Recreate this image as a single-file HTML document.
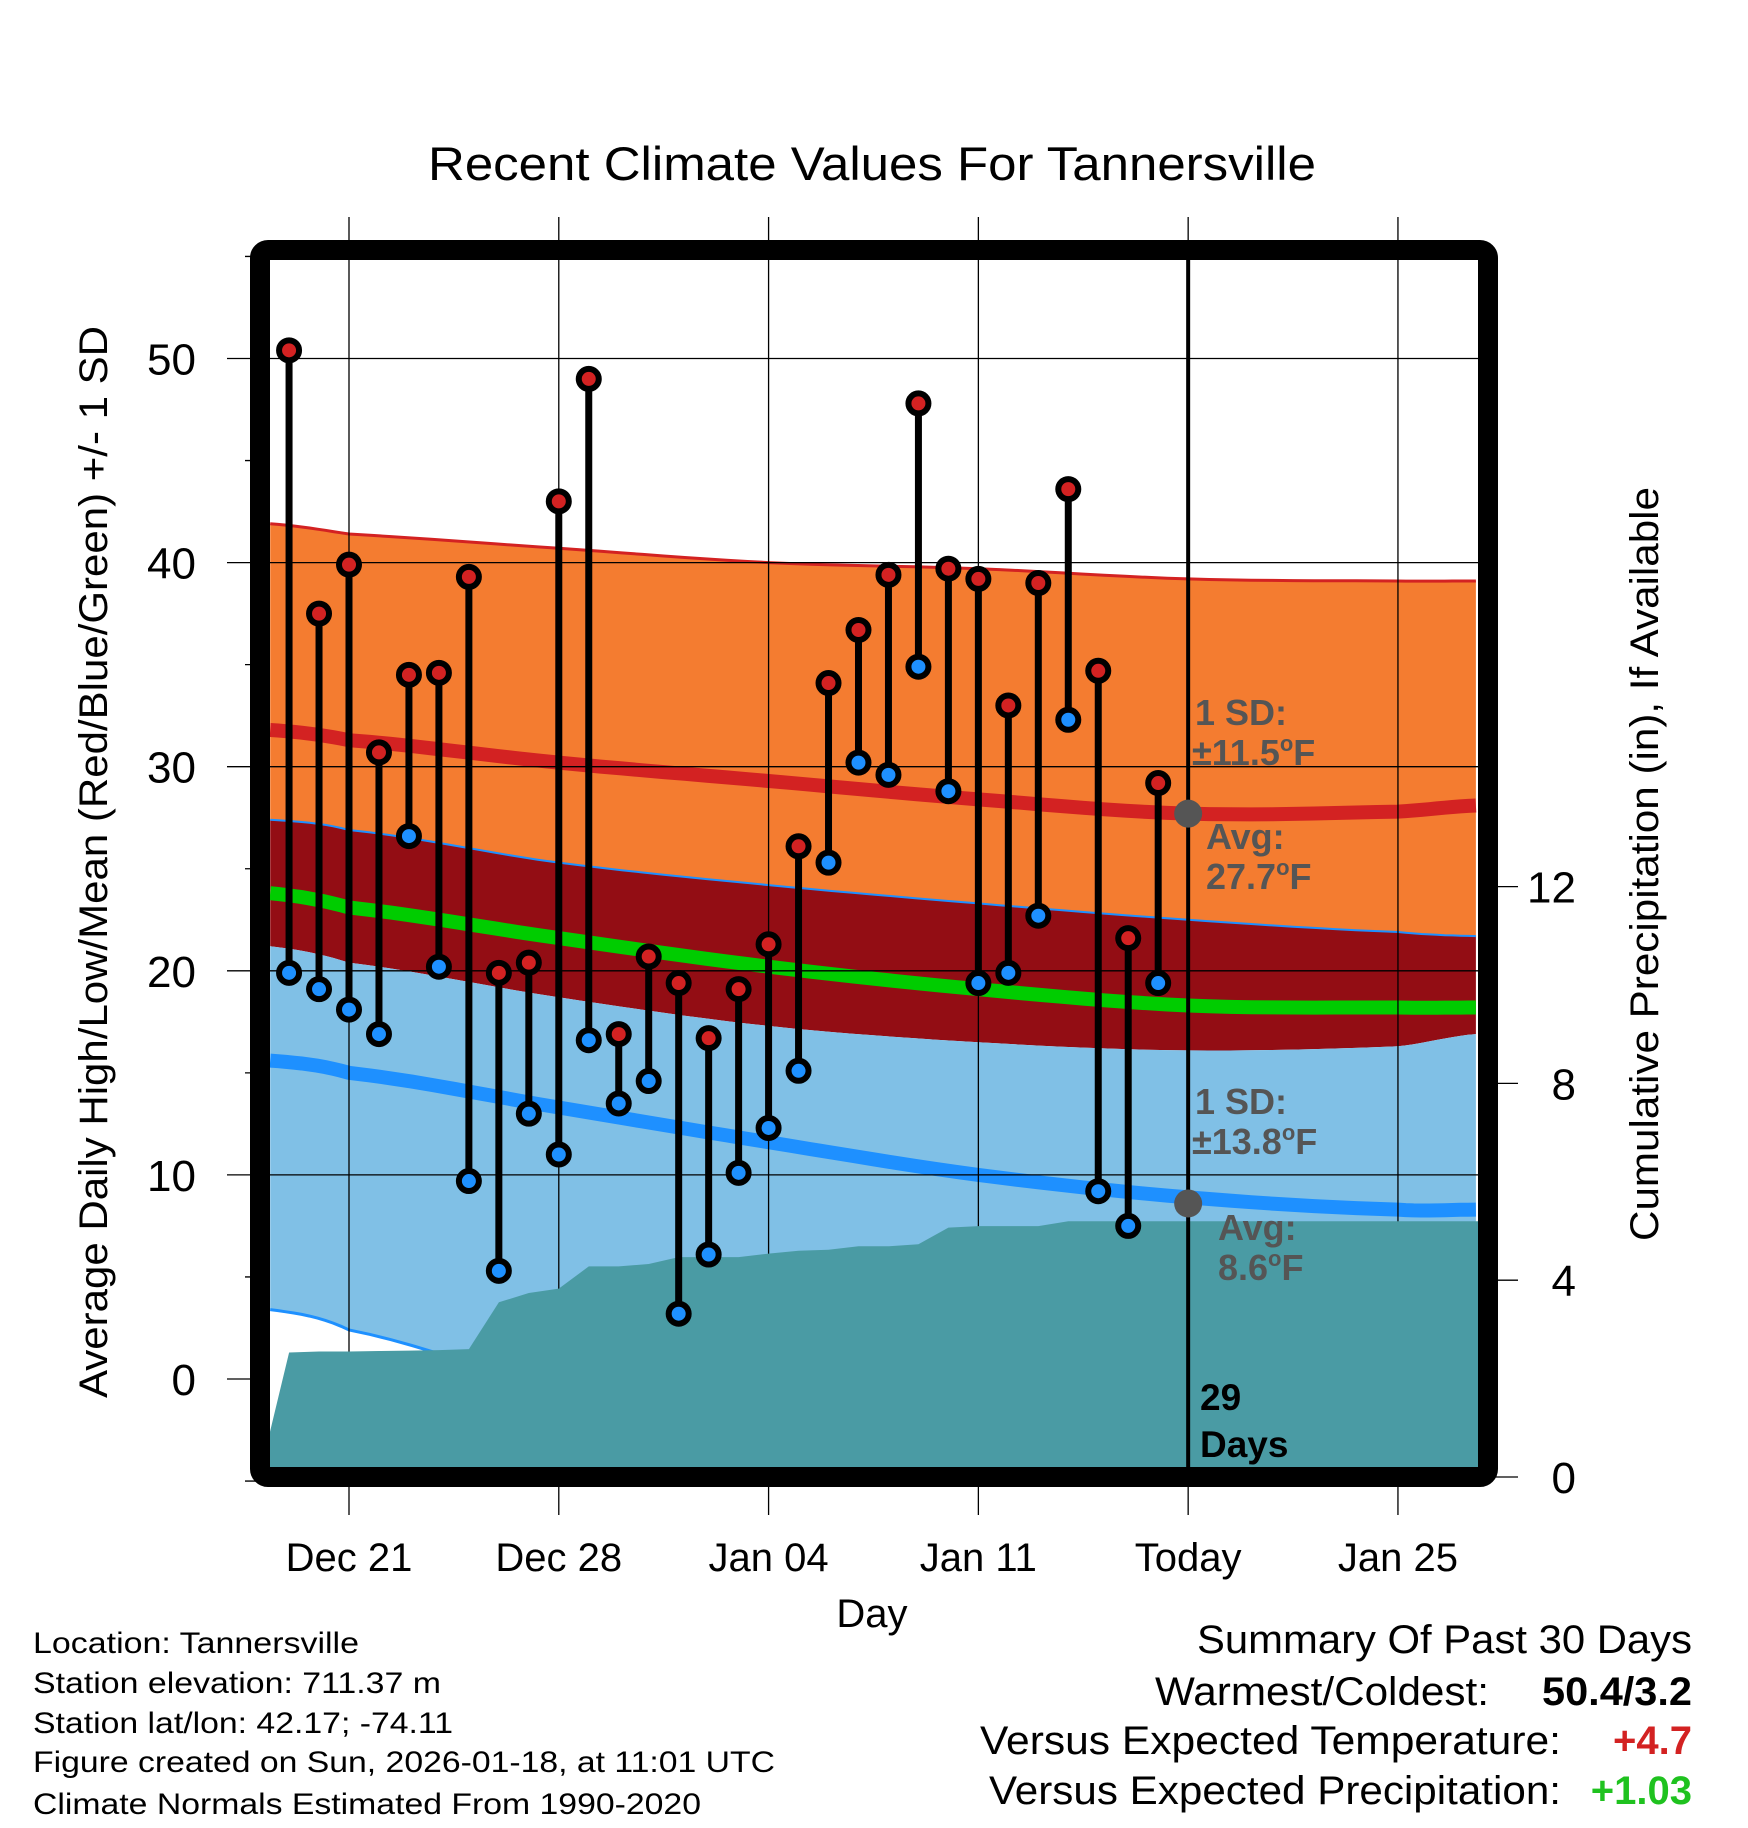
<!DOCTYPE html>
<html><head><meta charset="utf-8"><style>
html,body{margin:0;padding:0;background:#fff}
svg{display:block;font-family:"Liberation Sans",sans-serif}
</style></head><body>
<svg id="chart" width="1748" height="1828" viewBox="0 0 1748 1828" xmlns="http://www.w3.org/2000/svg">
<defs><clipPath id="plotclip"><rect x="270" y="260" width="1208" height="1207"/></clipPath></defs>
<g id="bands" clip-path="url(#plotclip)"></g>
<g id="grid"></g>
<g id="precip" clip-path="url(#plotclip)"></g>
<g id="marks"></g>
<g id="labels"></g>
</svg>
<script>
// ---- data ----
const normalDays = [-2.63, 0, 7, 14, 21, 28, 35, 37.6];
const highUpper = [41.9, 41.4, 40.7, 40.0, 39.7, 39.2, 39.1, 39.1];
const highMean  = [31.8, 31.3, 30.2, 29.3, 28.4, 27.7, 27.8, 28.1];
const lowUpper  = [27.4, 26.9, 25.3, 24.2, 23.3, 22.5, 21.9, 21.7];
const meanLine  = [23.8, 23.1, 21.6, 20.2, 19.1, 18.3, 18.2, 18.2];
const highLower = [21.2, 20.4, 18.7, 17.3, 16.5, 16.1, 16.3, 16.9];
const lowMean   = [15.6, 15.0, 13.3, 11.6, 10.0, 8.9, 8.3, 8.3];
const lowLower  = [3.4, 2.4, -0.5, -2.5, -4.0, -5.0, -5.5, -5.5];
const obsDates = ["Dec 19","Dec 20","Dec 21","Dec 22","Dec 23","Dec 24","Dec 25","Dec 26","Dec 27","Dec 28","Dec 29","Dec 30","Dec 31","Jan 01","Jan 02","Jan 03","Jan 04","Jan 05","Jan 06","Jan 07","Jan 08","Jan 09","Jan 10","Jan 11","Jan 12","Jan 13","Jan 14","Jan 15","Jan 16","Jan 17"];
const highs = [50.4,37.5,39.9,30.7,34.5,34.6,39.3,19.9,20.4,43.0,49.0,16.9,20.7,19.4,16.7,19.1,21.3,26.1,34.1,36.7,39.4,47.8,39.7,39.2,33.0,39.0,43.6,34.7,21.6,29.2];
const lows  = [19.9,19.1,18.1,16.9,26.6,20.2,9.7,5.3,13.0,11.0,16.6,13.5,14.6,3.2,6.1,10.1,12.3,15.1,25.3,30.2,29.6,34.9,28.8,19.4,19.9,22.7,32.3,9.2,7.5,19.4];
const precip = [2.53,2.55,2.55,2.56,2.57,2.58,2.6,3.55,3.74,3.83,4.28,4.28,4.33,4.47,4.47,4.47,4.54,4.6,4.62,4.69,4.69,4.73,5.07,5.1,5.1,5.1,5.2,5.2,5.2,5.2];
const xTickLabels = ["Dec 21","Dec 28","Jan 04","Jan 11","Today","Jan 25"];
const xTickDays = [0,7,14,21,28,35];
const yTicks = [0,10,20,30,40,50];
const pTicks = [0,4,8,12];

// ---- axes ----
const X = d => 349 + d * 29.97;
const Y = v => 1379 - v * 20.41;
const P = p => 1477 - p * 49.2;
const firstDay = -2;
const NS = "http://www.w3.org/2000/svg";
function mk(tag, parent, attrs){const e=document.createElementNS(NS,tag);for(const k in attrs)e.setAttribute(k,attrs[k]);parent.appendChild(e);return e;}
const bands=document.getElementById('bands'),grid=document.getElementById('grid'),pg=document.getElementById('precip'),marks=document.getElementById('marks'),labels=document.getElementById('labels');

function curvePts(arr){
  const pts=[];
  for(let i=0;i<normalDays.length-1;i++){
    const p0=arr[Math.max(i-1,0)],p1=arr[i],p2=arr[i+1],p3=arr[Math.min(i+2,arr.length-1)];
    const d1=normalDays[i],d2=normalDays[i+1];
    for(let s=0;s<10;s++){const t=s/10;
      const v=0.5*((2*p1)+(-p0+p2)*t+(2*p0-5*p1+4*p2-p3)*t*t+(-p0+3*p1-3*p2+p3)*t*t*t);
      pts.push([X(d1+(d2-d1)*t),Y(v)]);}
  }
  pts.push([X(normalDays[normalDays.length-1]),Y(arr[arr.length-1])]);
  return pts;
}
function bandPath(top,bot){
  const a=curvePts(top),b=curvePts(bot).reverse();
  return 'M'+a.concat(b).map(p=>p[0].toFixed(1)+','+p[1].toFixed(1)).join('L')+'Z';
}
function linePath(arr){return 'M'+curvePts(arr).map(p=>p[0].toFixed(1)+','+p[1].toFixed(1)).join('L');}

let e;
e=mk('path',bands,{d:bandPath(highUpper,lowUpper),fill:'#f47c30'});


e=mk('path',bands,{d:bandPath(lowUpper,highLower),fill:'#930d14'});


e=mk('path',bands,{d:bandPath(highLower,lowLower),fill:'#80c0e6'});


e=mk('path',bands,{d:linePath(highUpper),fill:'none',stroke:'#d32222',"stroke-width":3});


e=mk('path',bands,{d:linePath(lowUpper),fill:'none',stroke:'#1e90ff',"stroke-width":2});


e=mk('path',bands,{d:linePath(lowLower),fill:'none',stroke:'#1e90ff',"stroke-width":3});


e=mk('path',bands,{d:linePath(highMean),fill:'none',stroke:'#d32222',"stroke-width":14});


e=mk('path',bands,{d:linePath(meanLine),fill:'none',stroke:'#00cc00',"stroke-width":14});


e=mk('path',bands,{d:linePath(lowMean),fill:'none',stroke:'#1e90ff',"stroke-width":14});



xTickDays.forEach((d,i)=>{
  e=mk('line',grid,{x1:X(d),x2:X(d),y1:217,y2:1515,stroke:'#000','stroke-width':1.3});
  
  
  e=mk('text',labels,{x:X(d),y:1571,'font-size':40,'text-anchor':'middle'});
  e.textContent=xTickLabels[i];
  
  
});
for(let v=-5;v<=55;v+=5){
  const major=v%10===0;
  e=mk('line',grid,{x1:major?227:245,x2:270,y1:Y(v),y2:Y(v),stroke:'#000','stroke-width':1.3});
  
  
}
yTicks.forEach(v=>{
  if(v>0){e=mk('line',grid,{x1:270,x2:1478,y1:Y(v),y2:Y(v),stroke:'#000','stroke-width':1.3});
  
  }
  e=mk('text',labels,{x:196,y:Y(v)+16,'font-size':44,'text-anchor':'end'});
  e.textContent=String(v);
  
  
});
pTicks.forEach(p=>{
  e=mk('line',grid,{x1:1478,x2:1518,y1:P(p),y2:P(p),stroke:'#000','stroke-width':1.3});
  
  
  e=mk('text',labels,{x:1576,y:P(p)+16,'font-size':44,'text-anchor':'end'});
  e.textContent=String(p);
  
  
});

let pd='M'+X(-3)+','+P(0);
precip.forEach((p,i)=>{pd+='L'+X(firstDay+i).toFixed(1)+','+P(p).toFixed(1);});
pd+='L1480,'+P(precip[precip.length-1]).toFixed(1)+'L1480,1480L'+X(-3)+',1480Z';
e=mk('path',pg,{d:pd,fill:'#4a9ba4'});



e=mk('line',marks,{x1:X(28),x2:X(28),y1:260,y2:1467,stroke:'#000','stroke-width':4});



highs.forEach((h,i)=>{
  const x=X(firstDay+i);
  e=mk('line',marks,{x1:x,x2:x,y1:Y(h),y2:Y(lows[i]),stroke:'#000','stroke-width':7});
  
  
});
highs.forEach((h,i)=>{
  const x=X(firstDay+i);
  e=mk('circle',marks,{cx:x,cy:Y(h),r:10,fill:'#d32222',stroke:'#000','stroke-width':6});
  
  
  e=mk('circle',marks,{cx:x,cy:Y(lows[i]),r:10,fill:'#1e90ff',stroke:'#000','stroke-width':6});
  
  
});
e=mk('circle',marks,{cx:X(28),cy:Y(27.7),r:14,fill:'#555'});


e=mk('circle',marks,{cx:X(28),cy:Y(8.6),r:14,fill:'#555'});



e=mk('rect',marks,{x:260,y:250,width:1228,height:1227,rx:8,fill:'none',stroke:'#000','stroke-width':20});


</script>
<svg style="position:absolute;left:0;top:0" width="1748" height="1828">
<g font-family="Liberation Sans, sans-serif">
<text x="872" y="180" font-size="47" text-anchor="middle" textLength="888" lengthAdjust="spacingAndGlyphs">Recent Climate Values For Tannersville</text>
<text x="872" y="1627" font-size="40" text-anchor="middle">Day</text>
<text transform="translate(107,862) rotate(-90)" font-size="40" text-anchor="middle" textLength="1072" lengthAdjust="spacingAndGlyphs">Average Daily High/Low/Mean (Red/Blue/Green) +/- 1 SD</text>
<text transform="translate(1658,864) rotate(-90)" font-size="40" text-anchor="middle" textLength="754" lengthAdjust="spacingAndGlyphs">Cumulative Precipitation (in), If Available</text>
<g font-weight="bold" font-size="36" fill="#555">
<text x="1195" y="725">1 SD:</text>
<text x="1192" y="765">±11.5<tspan font-size="22" dy="-14">o</tspan><tspan dy="14">F</tspan></text>
<text x="1206" y="849">Avg:</text>
<text x="1206" y="889">27.7<tspan font-size="22" dy="-14">o</tspan><tspan dy="14">F</tspan></text>
<text x="1195" y="1114">1 SD:</text>
<text x="1192" y="1154">±13.8<tspan font-size="22" dy="-14">o</tspan><tspan dy="14">F</tspan></text>
<text x="1218" y="1240">Avg:</text>
<text x="1218" y="1280">8.6<tspan font-size="22" dy="-14">o</tspan><tspan dy="14">F</tspan></text>
</g>
<g font-weight="bold" font-size="37" fill="#000">
<text x="1200" y="1410">29</text>
<text x="1200" y="1457">Days</text>
</g>
<g font-size="30">
<text x="33" y="1653" textLength="326" lengthAdjust="spacingAndGlyphs">Location: Tannersville</text>
<text x="33" y="1693" textLength="408" lengthAdjust="spacingAndGlyphs">Station elevation: 711.37 m</text>
<text x="33" y="1733" textLength="420" lengthAdjust="spacingAndGlyphs">Station lat/lon: 42.17; -74.11</text>
<text x="33" y="1772" textLength="742" lengthAdjust="spacingAndGlyphs">Figure created on Sun, 2026-01-18, at 11:01 UTC</text>
<text x="33" y="1814" textLength="668" lengthAdjust="spacingAndGlyphs">Climate Normals Estimated From 1990-2020</text>
</g>
<g font-size="40">
<text x="1692" y="1653" text-anchor="end" textLength="495" lengthAdjust="spacingAndGlyphs">Summary Of Past 30 Days</text>
<text x="1489" y="1705" text-anchor="end" textLength="334" lengthAdjust="spacingAndGlyphs">Warmest/Coldest:</text>
<text x="1692" y="1705" text-anchor="end" font-weight="bold" textLength="150" lengthAdjust="spacingAndGlyphs">50.4/3.2</text>
<text x="1561" y="1754" text-anchor="end" textLength="581" lengthAdjust="spacingAndGlyphs">Versus Expected Temperature:</text>
<text x="1692" y="1754" text-anchor="end" font-weight="bold" fill="#d32222">+4.7</text>
<text x="1561" y="1804" text-anchor="end" textLength="572" lengthAdjust="spacingAndGlyphs">Versus Expected Precipitation:</text>
<text x="1692" y="1804" text-anchor="end" font-weight="bold" fill="#1fc21f">+1.03</text>
</g>
</g>
</svg>
</body></html>
